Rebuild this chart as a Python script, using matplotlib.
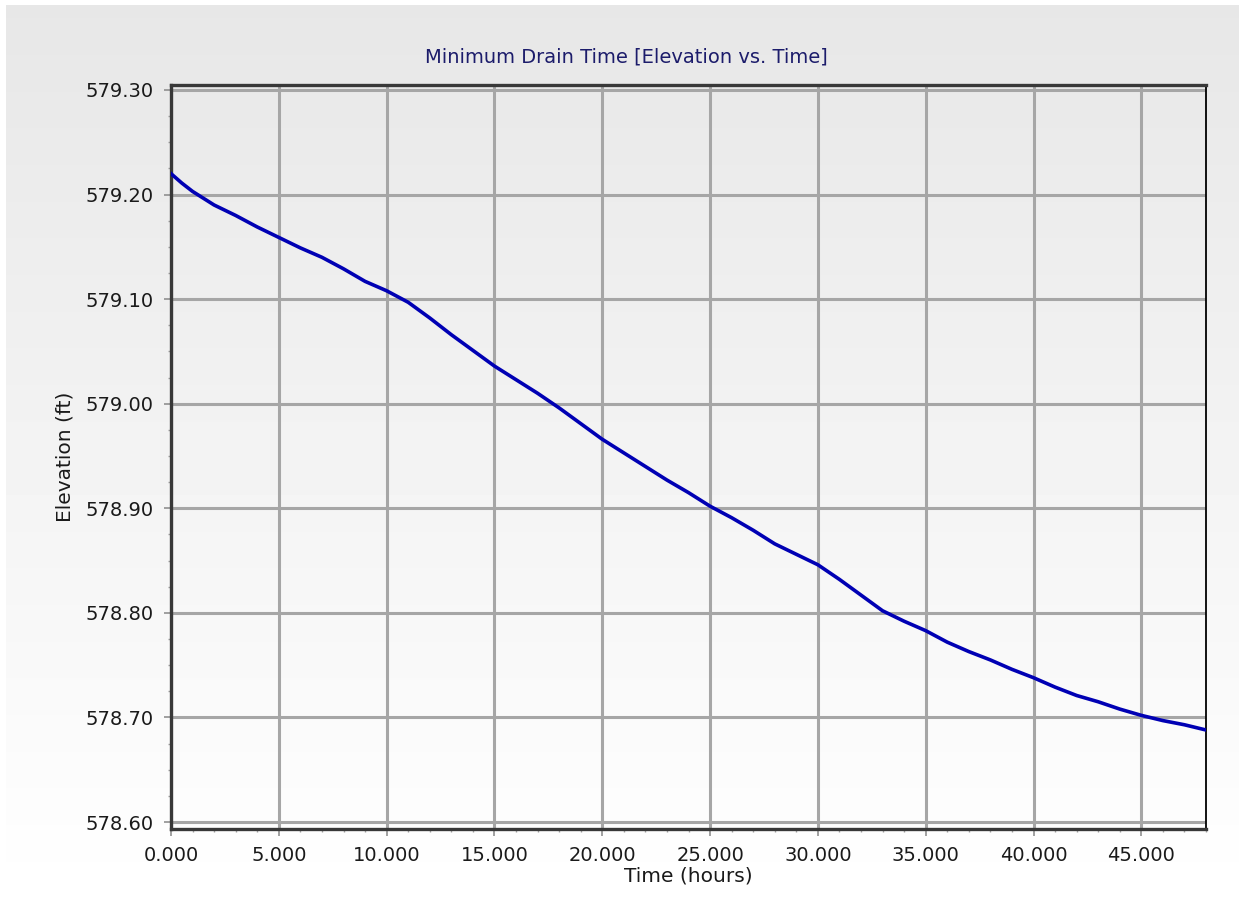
import numpy as np
import matplotlib
matplotlib.use("Agg")
import matplotlib.pyplot as plt
from matplotlib.ticker import MultipleLocator, FormatStrFormatter

# Reservoir drawdown: water surface elevation (ft) against elapsed time (hours)
time_hr = [0.0, 0.5, 1, 2, 3, 4, 5, 6, 7, 8, 9, 10, 11, 12, 13, 14, 15, 16,
           17, 18, 19, 20, 21, 22, 23, 24, 25, 26, 27, 28, 29, 30, 31, 32, 33,
           34, 35, 36, 37, 38, 39, 40, 41, 42, 43, 44, 45, 46, 47, 48]
elevation_ft = [579.220, 579.211, 579.203, 579.190, 579.180, 579.169, 579.159,
                579.149, 579.140, 579.129, 579.117, 579.108, 579.097, 579.082,
                579.066, 579.051, 579.036, 579.023, 579.010, 578.996, 578.981,
                578.966, 578.953, 578.940, 578.927, 578.915, 578.902, 578.891,
                578.879, 578.866, 578.856, 578.846, 578.832, 578.817, 578.802,
                578.792, 578.783, 578.772, 578.763, 578.755, 578.746, 578.738,
                578.729, 578.721, 578.715, 578.708, 578.702, 578.697, 578.693,
                578.688]

title = "Minimum Drain Time [Elevation vs. Time]"
x_label = "Time (hours)"
y_label = "Elevation (ft)"

W, H = 1239, 900
fig = plt.figure(figsize=(W / 100, H / 100), dpi=100)
fig.patch.set_facecolor("white")

# soft grey-to-white panel behind everything
bg = fig.add_axes([6 / W, 0, 1 - 6 / W, 1 - 5 / H], zorder=-1)
grad = np.linspace(0.905, 1.0, 256).reshape(-1, 1)
bg.imshow(grad, aspect="auto", cmap="gray", vmin=0, vmax=1,
          extent=[0, 1, 0, 1], origin="upper", interpolation="bicubic")
bg.axis("off")

ax = fig.add_axes([171 / W, 1 - 829 / H, (1206 - 171) / W, (829 - 85) / H])
ax.set_facecolor("none")

ax.plot(time_hr, elevation_ft, color="#0000b4", lw=2.6, zorder=3,
        solid_joinstyle="round")

ax.set_xlim(0, 48)
ax.set_ylim(578.60 - 7 / 1050, 579.30 + 5 / 1050)

ax.xaxis.set_major_locator(MultipleLocator(5))
ax.xaxis.set_minor_locator(MultipleLocator(1))
ax.yaxis.set_major_locator(MultipleLocator(0.1))
ax.yaxis.set_minor_locator(MultipleLocator(0.025))
ax.xaxis.set_major_formatter(FormatStrFormatter("%.3f"))
ax.yaxis.set_major_formatter(FormatStrFormatter("%.2f"))

ax.grid(True, which="major", color="#a6a6a6", lw=2.2, zorder=1)
ax.set_axisbelow(True)

ax.tick_params(which="major", direction="out", length=5, width=1.2,
               color="#909090", labelsize=14, labelcolor="#1a1a1a")
ax.tick_params(axis="y", which="major", pad=7.5)
ax.tick_params(axis="x", which="major", pad=7)
ax.tick_params(which="minor", direction="out", length=2.5, width=1.0,
               color="#a0a0a0")

for side in ["left", "bottom", "top"]:
    ax.spines[side].set_color("#383838")
    ax.spines[side].set_linewidth(2.4)
ax.spines["right"].set_color("black")
ax.spines["right"].set_linewidth(1.3)

ax.set_xlabel(x_label, fontsize=14.5, color="#1a1a1a", labelpad=1)
ax.set_ylabel(y_label, fontsize=14.5, color="#1a1a1a", labelpad=8)

fig.text(626 / W, 1 - 57 / H, title, fontsize=14, color="#1c1c6b",
         ha="center", va="center")

fig.savefig("out.png", dpi=100)
